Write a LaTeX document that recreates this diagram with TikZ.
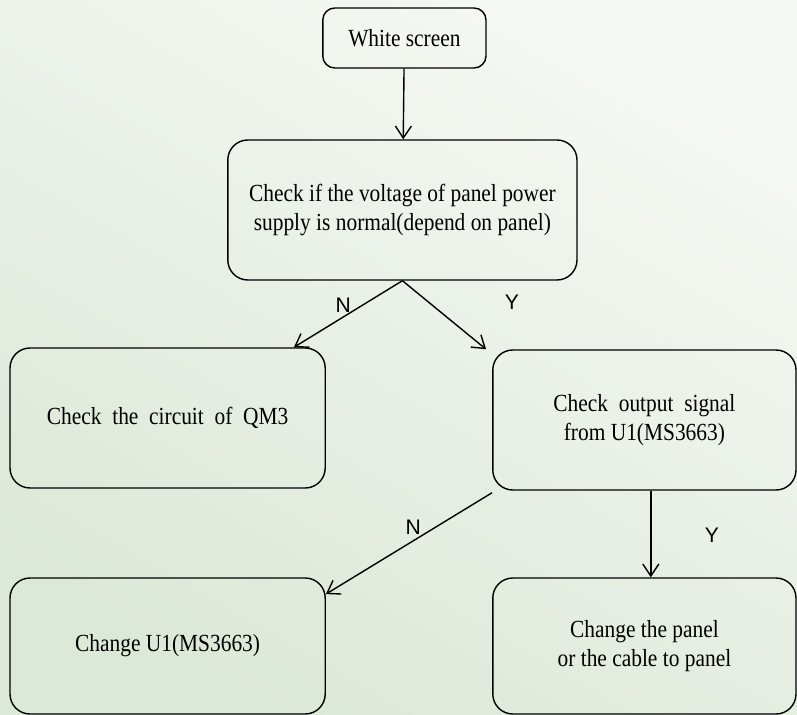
\documentclass[tikz,border=0pt]{standalone}
\usepackage{fontspec}
\setmainfont[FakeStretch=0.87]{Liberation Serif}
\newfontfamily\labelfont{Liberation Sans}
\usetikzlibrary{arrows.meta}
\definecolor{bgtop}{HTML}{F5F8F3}
\definecolor{bgbot}{HTML}{DCE8D8}
\tikzset{
  box/.style={draw, line width=1pt, rounded corners=0.5cm, align=center, font=\fontsize{17.5}{20.5}\selectfont, inner sep=0pt},
  flow/.style={-{Straight Barb[length=3mm,width=4mm]}, line width=1pt},
  yn/.style={font=\labelfont\fontsize{15}{18}\selectfont}
}
\begin{document}
\begin{tikzpicture}
    % background
    \shade [shading=axis, top color=bgtop, bottom color=bgbot, shading angle=-30] (0,0) rectangle (19.925,-17.875);
    \useasboundingbox (0,0) rectangle (19.925,-17.875);

    % first check
    \node [box, rounded corners=0.3cm, minimum width=4.08cm, minimum height=1.5cm, name=white] at (10.11,-0.95) {White screen};
    \node [box, minimum width=8.73cm, minimum height=3.5cm, name=power] at (10.06,-5.25) {Check if the voltage of panel power\\supply is normal(depend on panel)};
    \draw [flow] (white) -- (power);

    % panel power
    \node [box, minimum width=7.88cm, minimum height=3.5cm, name=qm3] at (4.19,-10.45) {Check \ the \ circuit \ of \ QM3};
    \node [box, minimum width=7.58cm, minimum height=3.5cm, name=signal] at (16.11,-10.5) {Check \ output \ signal\\from U1(MS3663)};
    \draw [flow] (power.south) -- ([xshift=-0.8cm]qm3.north east);
    \draw [flow] (power.south) -- ([xshift=-0.15cm]signal.north west);
    \node [yn, name=n1] at (8.58,-7.63) {N};
    \node [yn, name=y1] at (12.8,-7.55) {Y};

    % output signal
    \node [box, minimum width=7.88cm, minimum height=3.4cm, name=u1] at (4.19,-16.15) {Change U1(MS3663)};
    \node [box, minimum width=7.58cm, minimum height=3.4cm, name=panel] at (16.11,-16.15) {Change the panel\\or the cable to panel};
    \draw [flow] ([yshift=-0.05cm]signal.south west) -- ([yshift=-0.42cm]u1.north east);
    \draw [flow] ([xshift=0.16cm]signal.south) -- ([xshift=0.16cm]panel.north);
    \node [yn, name=n2] at (10.33,-13.18) {N};
    \node [yn, name=y2] at (17.8,-13.38) {Y};
  \end{tikzpicture}
\end{document}
